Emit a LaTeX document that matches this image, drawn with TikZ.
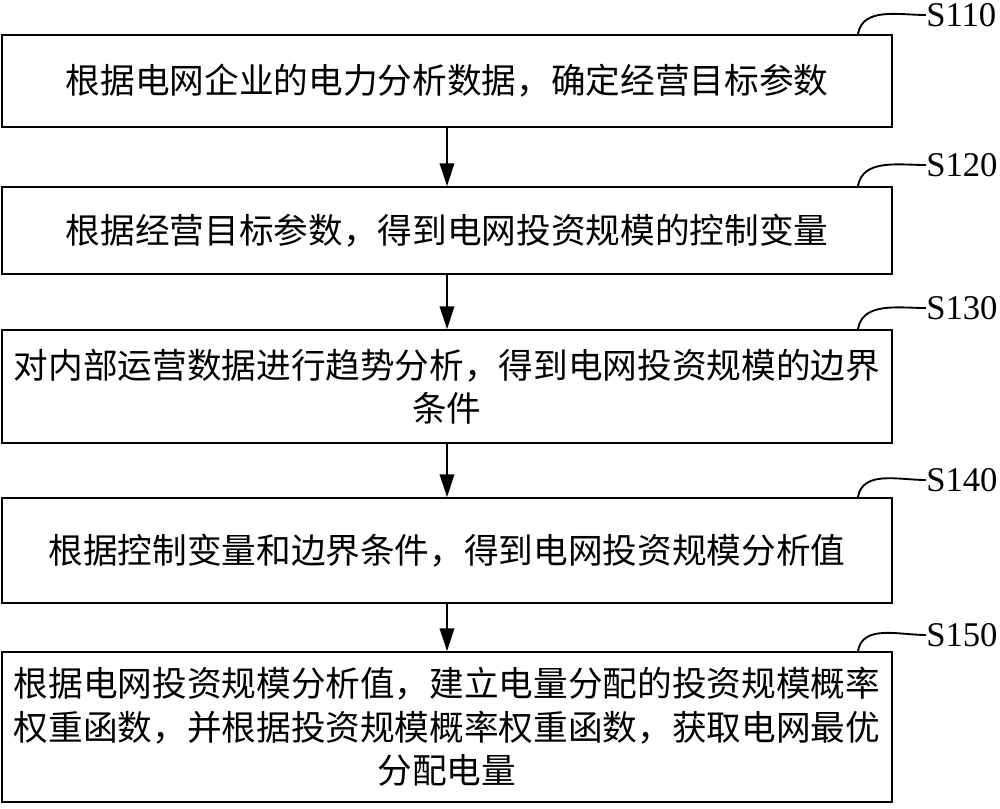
\documentclass[tikz,border=0pt]{standalone}
\usepackage{fontspec}
\setmainfont{Liberation Serif}
\newfontfamily\cjk{Noto Sans CJK SC}
\usetikzlibrary{arrows.meta,calc}

\begin{document}
\begin{tikzpicture}[x=0.75pt,y=-0.75pt]

    \tikzset{stepbox/.style={draw,line width=1.4pt,minimum width=667.5pt,inner sep=0pt,align=center,
                             font=\cjk\fontsize{26}{32.5}\selectfont},
             steplabel/.style={anchor=west,inner sep=0pt,font=\fontsize{26}{30}\selectfont}}
    \useasboundingbox (0,0) rectangle (1000,808);

    \node[stepbox,minimum height=69pt] (s110) at (447,81) {根据电网企业的电力分析数据，确定经营目标参数};
    \node[stepbox,minimum height=65.25pt] (s120) at (447,230.5) {根据经营目标参数，得到电网投资规模的控制变量};
    \node[stepbox,minimum height=84.75pt] (s130) at (447,386.5) {对内部运营数据进行趋势分析，得到电网投资规模的边界\\条件};
    \node[stepbox,minimum height=78.75pt] (s140) at (447,550.5) {根据控制变量和边界条件，得到电网投资规模分析值};
    \node[stepbox,minimum height=112.5pt] (s150) at (447,727) {根据电网投资规模分析值，建立电量分配的投资规模概率\\权重函数，并根据投资规模概率权重函数，获取电网最优\\分配电量};

    \node[steplabel] (l110) at (926,15) {S110};
    \node[steplabel] (l120) at (926,165) {S120};
    \node[steplabel] (l130) at (926,308) {S130};
    \node[steplabel] (l140) at (926,480) {S140};
    \node[steplabel] (l150) at (926,635) {S150};

    \begin{scope}[every path/.style={line width=1pt}]
        \foreach \a/\b in {s110/s120,s120/s130,s130/s140,s140/s150}
            \draw[-{Triangle[length=17pt,width=11pt]}] (\a) -- (\b);
        \foreach \s in {110,120,130,140,150}
            \draw[line width=1.4pt] ($(s\s.north east)+(-35,0)$) to[out=80,in=180] (l\s.west);
    \end{scope}
\end{tikzpicture}
\end{document}
